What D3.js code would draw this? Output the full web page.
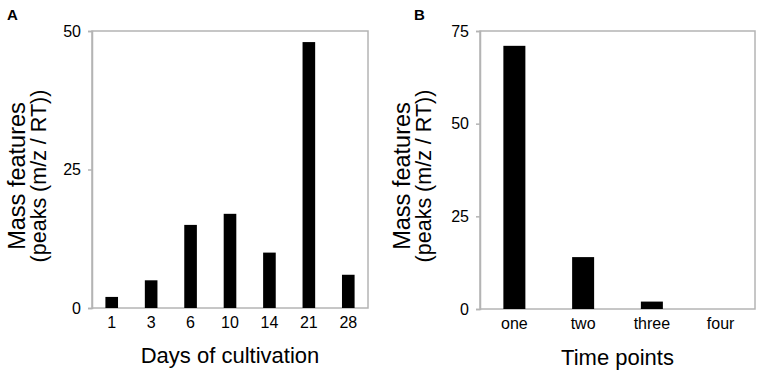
<!DOCTYPE html>
<html>
<head>
<meta charset="utf-8">
<script src="https://cdn.jsdelivr.net/npm/d3@7"></script>
<style>
  body { margin: 0; background: #fff; }
  svg { display: block; font-family: "Liberation Sans", Arial, sans-serif; }
</style>
</head>
<body>
<div id="chart"></div>
<script>
const W = 765, H = 376;

// Panel A: days of cultivation
const daysLabels = ["1", "3", "6", "10", "14", "21", "28"];
const daysValues = [2, 5, 15, 17, 10, 48, 6];
const daysTicks = [0, 25, 50];

// Panel B: time points
const timeLabels = ["one", "two", "three", "four"];
const timeValues = [71, 14, 2, 0];
const timeTicks = [0, 25, 50, 75];

const AXIS_GRAY = "#b4b4b4";

const svg = d3.select("#chart").append("svg")
  .attr("width", W)
  .attr("height", H)
  .attr("viewBox", `0 0 ${W} ${H}`);

function drawPanel(opts) {
  const { left, right, top, bottom, labels, values, ticks, yMax, letter, letterX, xTitle, offsetX } = opts;
  const g = svg.append("g");

  const x = d3.scaleBand()
    .domain(labels)
    .range([left, right])
    .paddingInner(0.68)
    .paddingOuter(0.34);

  const y = d3.scaleLinear()
    .domain([0, yMax])
    .range([bottom, top]);

  // plot frame
  g.append("rect")
    .attr("x", left)
    .attr("y", top)
    .attr("width", right - left)
    .attr("height", bottom - top)
    .attr("fill", "none")
    .attr("stroke", AXIS_GRAY)
    .attr("stroke-width", 1.5);

  // bars
  g.selectAll("rect.bar")
    .data(labels.map((l, i) => ({ label: l, value: values[i] })))
    .join("rect")
    .attr("class", "bar")
    .attr("x", d => x(d.label))
    .attr("y", d => y(d.value))
    .attr("width", x.bandwidth())
    .attr("height", d => bottom - y(d.value))
    .attr("fill", "#000");

  // y axis
  const yAxis = g.append("g")
    .attr("transform", `translate(${left},0)`)
    .call(d3.axisLeft(y).tickValues(ticks).tickSize(4).tickPadding(7).tickFormat(d3.format("d")));
  yAxis.select(".domain").attr("stroke", AXIS_GRAY).attr("stroke-width", 1.5);
  yAxis.selectAll(".tick line").attr("stroke", AXIS_GRAY).attr("stroke-width", 1.5);
  yAxis.selectAll(".tick text")
    .attr("font-size", 16)
    .attr("font-family", "Liberation Sans, Arial, sans-serif")
    .attr("fill", "#000");

  // x axis
  const xAxis = g.append("g")
    .attr("transform", `translate(0,${bottom})`)
    .call(d3.axisBottom(x).tickSize(0).tickPadding(9));
  xAxis.select(".domain").remove();
  xAxis.selectAll(".tick text")
    .attr("font-size", 16)
    .attr("font-family", "Liberation Sans, Arial, sans-serif")
    .attr("fill", "#000");

  // x title
  g.append("text")
    .attr("x", (left + right) / 2)
    .attr("y", opts.xTitleY)
    .attr("text-anchor", "middle")
    .attr("font-size", 22)
    .text(xTitle);

  // y title, two lines
  const yc = 176;
  const yTitle = g.append("text")
    .attr("transform", `translate(${offsetX + 25},${yc}) rotate(-90)`)
    .attr("text-anchor", "middle");
  yTitle.append("tspan").attr("x", 0).attr("dy", 0).attr("font-size", 23.5).text("Mass features");
  yTitle.append("tspan").attr("x", 0).attr("dy", 21).attr("font-size", 21.5).text("(peaks (m/z / RT))");

  // panel letter
  g.append("text")
    .attr("x", letterX)
    .attr("y", 20)
    .attr("font-size", 15)
    .attr("font-weight", "bold")
    .text(letter);
}

drawPanel({
  left: 92, right: 368, top: 31, bottom: 308,
  labels: daysLabels, values: daysValues, ticks: daysTicks, yMax: 50,
  letter: "A", letterX: 7, xTitle: "Days of cultivation", xTitleY: 363, offsetX: 0
});

drawPanel({
  left: 480, right: 755, top: 31, bottom: 309,
  labels: timeLabels, values: timeValues, ticks: timeTicks, yMax: 75,
  letter: "B", letterX: 414, xTitle: "Time points", xTitleY: 365, offsetX: 385
});
</script>
</body>
</html>
